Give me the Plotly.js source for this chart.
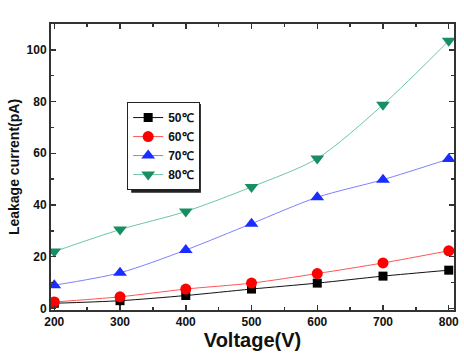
<!DOCTYPE html>
<html>
<head>
<meta charset="utf-8">
<script src="https://cdn.plot.ly/plotly-3.0.1.min.js"></script>
<style>
  html, body { margin: 0; padding: 0; background: #fff; }
  #chart { width: 464px; height: 363px; }
</style>
</head>
<body>
<div id="chart"></div>
<script>
// Leakage current vs applied voltage at four temperatures
const voltage = [200, 300, 400, 500, 600, 700, 800];
const seriesNames = ['50\u2103', '60\u2103', '70\u2103', '80\u2103'];
const current50 = [2, 3, 5, 7.5, 9.8, 12.5, 14.8];
const current60 = [2.5, 4.5, 7.5, 9.8, 13.5, 17.6, 22.3];
const current70 = [9, 13.8, 22.6, 32.8, 43, 49.8, 57.8];
const current80 = [22, 30.5, 37.5, 47, 58, 78.8, 103.5];

const fontFamily = '"Liberation Sans", Arial, sans-serif';
const axisColor = '#333';

const seriesStyle = [
  { line: '#111111', marker: '#000000', symbol: 'square', size: 9 },
  { line: '#ff5555', marker: '#ff0000', symbol: 'circle', size: 11 },
  { line: '#8080ff', marker: '#1a2cff', symbol: 'triangle-up', size: 12 },
  { line: '#6cc7a4', marker: '#178f62', symbol: 'triangle-down', size: 12 }
];
const seriesValues = [current50, current60, current70, current80];

const traces = seriesValues.map((vals, i) => ({
  x: voltage,
  y: vals,
  name: seriesNames[i],
  type: 'scatter',
  mode: 'lines+markers',
  line: { color: seriesStyle[i].line, width: 1, shape: 'spline', smoothing: 0.8 },
  marker: { color: seriesStyle[i].marker, symbol: seriesStyle[i].symbol, size: seriesStyle[i].size }
}));

const axisBase = {
  showline: true,
  mirror: 'ticks',
  linecolor: axisColor,
  linewidth: 2,
  ticks: 'inside',
  ticklen: 5,
  tickwidth: 1.5,
  tickcolor: axisColor,
  showgrid: false,
  zeroline: false,
  tickfont: { family: fontFamily, size: 12, color: '#111', weight: 'bold' }
};

const layout = {
  width: 464,
  height: 363,
  margin: { l: 51, r: 10, t: 24, b: 53 },
  paper_bgcolor: '#fff',
  plot_bgcolor: '#fff',
  showlegend: true,
  legend: {
    x: 0.189, y: 0.727, xanchor: 'left', yanchor: 'top',
    bgcolor: '#fff', bordercolor: '#222', borderwidth: 1,
    font: { family: fontFamily, size: 12, color: '#111', weight: 'bold' },
    itemwidth: 30, tracegroupgap: 0
  },
  // drop shadow behind the legend box
  shapes: [{
    type: 'rect', xref: 'paper', yref: 'paper', layer: 'above',
    x0: 0.199, x1: 0.372, y0: 0.41, y1: 0.72,
    fillcolor: '#222', line: { width: 0 }
  }],
  xaxis: Object.assign({}, axisBase, {
    range: [195, 808],
    tickvals: voltage,
    ticktext: voltage.map(String),
    minor: { dtick: 50, ticklen: 3, tickcolor: axisColor, ticks: 'inside', tick0: 0 },
    title: { text: 'Voltage(V)', font: { family: fontFamily, size: 20, color: '#111', weight: 'bold' }, standoff: 5 }
  }),
  yaxis: Object.assign({}, axisBase, {
    range: [-0.6, 110],
    tickvals: [0, 20, 40, 60, 80, 100],
    minor: { dtick: 10, ticklen: 3, tickcolor: axisColor, ticks: 'inside', tick0: 0 },
    title: { text: 'Leakage current(pA)', font: { family: fontFamily, size: 14, color: '#111', weight: 'bold' }, standoff: 4 }
  })
};

Plotly.newPlot('chart', traces, layout, { displayModeBar: false, staticPlot: true });
</script>
</body>
</html>
